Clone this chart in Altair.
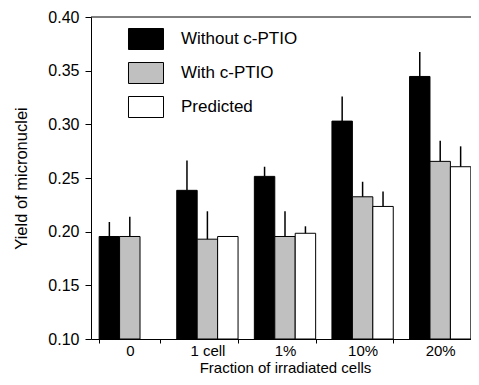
import altair as alt
import pandas as pd

categories = ["0", "1 cell", "1%", "10%", "20%"]
series = ["Without c-PTIO", "With c-PTIO", "Predicted"]
colors = ["#000000", "#c0c0c0", "#ffffff"]

without_vals = [0.1955, 0.2385, 0.2515, 0.303, 0.3446]
without_upper = [0.209, 0.2664, 0.2605, 0.326, 0.3674]
with_vals = [0.1955, 0.193, 0.1955, 0.2325, 0.2655]
with_upper = [0.214, 0.219, 0.219, 0.2465, 0.2846]
pred_vals = [None, 0.1955, 0.1985, 0.2235, 0.2605]
pred_upper = [None, None, 0.205, 0.2375, 0.2795]

y_ticks = [0.10, 0.15, 0.20, 0.25, 0.30, 0.35, 0.40]

rows = []
for i, c in enumerate(categories):
    for s, vals, ups in zip(series, [without_vals, with_vals, pred_vals],
                            [without_upper, with_upper, pred_upper]):
        if vals[i] is None:
            continue
        rows.append({"cat": c, "series": s, "value": vals[i], "upper": ups[i]})
df = pd.DataFrame(rows)

FONT = "Liberation Sans"

x_enc = alt.X(
    "cat:N",
    sort=categories,
    scale=alt.Scale(domain=categories, range=[0, 388], paddingInner=0.21, paddingOuter=0.105),
    axis=alt.Axis(
        title="Fraction of irradiated cells",
        labelAngle=0,
        tickBand="extent",
        tickSize=4,
        labelPadding=0,
        labelFontSize=15,
        titleFontSize=15,
        titlePadding=2,
        domainColor="black",
        tickColor="black",
        labelColor="black",
        titleColor="black",
        titleFontWeight="normal",
        zindex=1,
    ),
)
xoff = alt.XOffset("series:N", sort=series, scale=alt.Scale(domain=series))
y_scale = alt.Scale(domain=[y_ticks[0], y_ticks[-1]], nice=False, zero=False)
y_axis = alt.Axis(
    title="Yield of micronuclei",
    values=y_ticks,
    format=".2f",
    tickSize=6,
    labelPadding=6,
    labelFontSize=16,
    titleFontSize=16.5,
    titlePadding=18,
    domainColor="black",
    tickColor="black",
    labelColor="black",
    titleColor="black",
    titleFontWeight="normal",
    grid=False,
    zindex=1,
)

bars = alt.Chart(df).mark_bar(stroke="black", strokeWidth=1).encode(
    x=x_enc,
    xOffset=xoff,
    y=alt.Y("value:Q", scale=y_scale, axis=y_axis),
    y2=alt.datum(y_ticks[0]),
    color=alt.Color(
        "series:N",
        scale=alt.Scale(domain=series, range=colors),
        legend=alt.Legend(
            title=None,
            orient="none",
            legendX=44,
            legendY=11,
            padding=0,
            symbolType="M-1.667,-1L1.667,-1L1.667,1L-1.667,1Z",
            symbolSize=441,
            symbolStrokeColor="black",
            symbolStrokeWidth=1,
            symbolOpacity=1,
            labelFontSize=17,
            labelOffset=24,
            labelColor="black",
            rowPadding=8,
        ),
    ),
)

errs = alt.Chart(df).transform_filter("isValid(datum.upper)").mark_rule(
    color="black", strokeWidth=1.5
).encode(
    x=alt.X("cat:N", sort=categories),
    xOffset=xoff,
    y=alt.Y("value:Q"),
    y2="upper:Q",
)

top = alt.Chart(pd.DataFrame({"top": [y_ticks[-1]]})).mark_rule(
    color="black", strokeWidth=1
).encode(y=alt.Y("top:Q"))

chart = alt.layer(bars, errs, top).properties(
    width=380,
    height=322,
    autosize=alt.AutoSizeParams(type="none"),
    padding={"left": 83, "top": 9, "right": 0, "bottom": 38},
).configure(font=FONT).configure_view(stroke=None)

chart.save("out.html", embed_options={"renderer": "svg", "actions": False})
